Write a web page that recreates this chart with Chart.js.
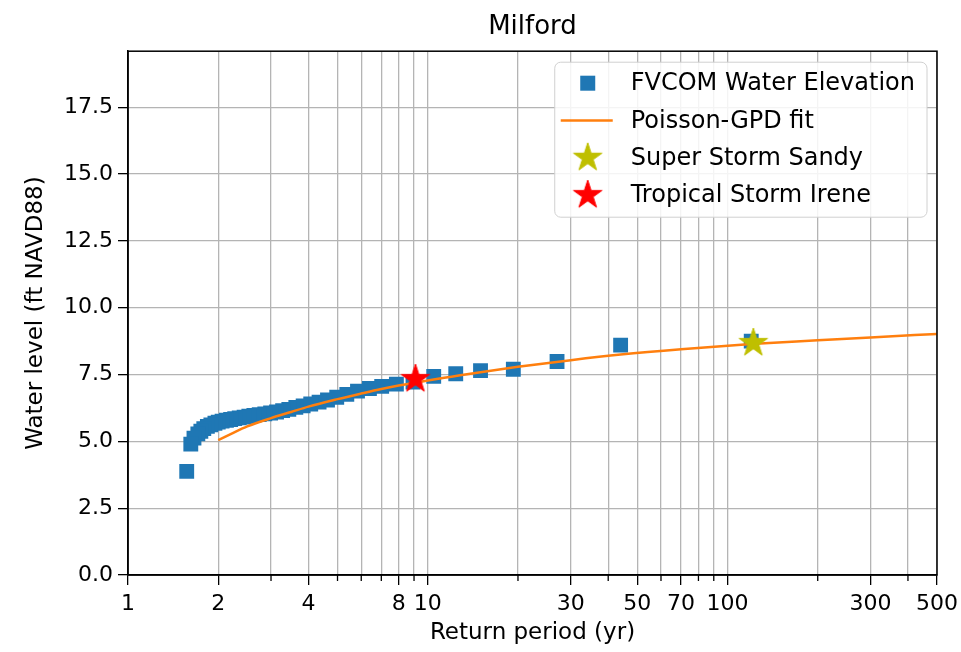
<!DOCTYPE html>
<html><head><meta charset="utf-8">
<script src="https://cdn.jsdelivr.net/npm/chart.js@4.4.1/dist/chart.umd.min.js"></script>
<style>html,body{margin:0;padding:0;background:#fff}</style>
</head><body>
<canvas id="c" width="961" height="652"></canvas>
<script>
// ---- data ----
const chartTitle = 'Milford';
const xAxisTitle = 'Return period (yr)';
const yAxisTitle = 'Water level (ft NAVD88)';

const modelPeriods = [120, 44.0, 27.0, 19.3, 15.0, 12.4, 10.47,
  8.93, 7.86, 7.02, 6.39, 5.83, 5.37, 4.97, 4.63, 4.34, 4.07, 3.84, 3.63, 3.44, 3.28, 3.13, 2.99,
  2.86, 2.74, 2.63, 2.53, 2.44, 2.35, 2.27, 2.20, 2.13, 2.06, 2.00, 1.95, 1.89, 1.84, 1.79, 1.75,
  1.71, 1.66, 1.62, 1.57];
const modelLevels = [8.75, 8.60, 7.99, 7.70, 7.65, 7.53, 7.43,
  7.22, 7.14, 7.06, 6.98, 6.88, 6.76, 6.65, 6.55, 6.47, 6.40, 6.33, 6.27, 6.20, 6.15, 6.10, 6.06,
  6.03, 6.00, 5.97, 5.94, 5.91, 5.88, 5.85, 5.82, 5.79, 5.76, 5.72, 5.68, 5.62, 5.56, 5.48, 5.38,
  5.28, 5.12, 4.90, 3.88];

const fitPeriods = [2, 2.2, 2.5, 3, 3.5, 4, 5, 6, 7, 8, 10, 12, 15, 20, 30, 44, 70, 120, 200, 300, 500];
const fitLevels  = [5.05, 5.27, 5.56, 5.87, 6.10, 6.30, 6.58, 6.79, 6.96, 7.09, 7.28, 7.42, 7.59, 7.79, 8.04, 8.25, 8.45, 8.64, 8.78, 8.89, 9.02];

const sandyPeriod = [122];
const sandyLevel  = [8.68];
const irenePeriod = [9.1];
const ireneLevel  = [7.33];

const seriesLabels = ['FVCOM Water Elevation', 'Poisson-GPD fit', 'Super Storm Sandy', 'Tropical Storm Irene'];

const xGridValues  = [1,2,3,4,5,6,7,8,9,10,20,30,40,50,60,70,80,90,100,200,300,400,500];
const xTickLabels  = [1,2,4,8,10,30,50,70,100,300,500];
const yTickValues  = [0, 2.5, 5, 7.5, 10, 12.5, 15, 17.5];
const xRange = [1, 500];
const yRange = [0, 19.6];

// ---- styling ----
const FONT = 'DejaVu Sans';
const FS = 22;      // tick labels
const FS_T = 23;    // axis titles
const FS_L = 24;    // legend
const FS_H = 26;    // chart title
const BLUE = '#1f77b4', ORANGE = '#ff7f0e', OLIVE = '#bfbf00', RED = '#ff0000';

function makeStar(color, R) {
  const s = Math.ceil(2 * R + 4);
  const c = document.createElement('canvas');
  c.width = s; c.height = s;
  const g = c.getContext('2d');
  g.translate(s / 2, s / 2);
  const r = R * 0.381966;
  g.beginPath();
  for (let i = 0; i < 10; i++) {
    const rad = i % 2 === 0 ? R : r;
    const a = -Math.PI / 2 + i * Math.PI / 5;
    const px = rad * Math.cos(a), py = rad * Math.sin(a);
    if (i === 0) g.moveTo(px, py); else g.lineTo(px, py);
  }
  g.closePath();
  g.fillStyle = color; g.fill();
  g.lineWidth = 1; g.strokeStyle = color; g.stroke();
  return c;
}
const sandyStar = makeStar(OLIVE, 15);
const ireneStar = makeStar(RED, 15);

const toPts = (xs, ys) => xs.map((x, i) => ({x, y: ys[i]}));

const extras = {
  id: 'extras',
  afterDraw(chart) {
    const {ctx, chartArea: a, scales} = chart;
    ctx.save();
    // minor x ticks
    ctx.strokeStyle = '#000'; ctx.lineWidth = 1.3;
    xGridValues.forEach(v => {
      if (xTickLabels.includes(v)) return;
      const px = scales.x.getPixelForValue(v);
      ctx.beginPath(); ctx.moveTo(px, a.bottom); ctx.lineTo(px, a.bottom + 6); ctx.stroke();
    });
    // frame
    ctx.lineWidth = 1.5; ctx.strokeStyle = '#000';
    ctx.strokeRect(a.left, a.top, a.right - a.left, a.bottom - a.top);
    // legend
    ctx.font = FS_L + 'px "' + FONT + '"';
    const ds = chart.data.datasets;
    let maxW = 0;
    ds.forEach(d => { maxW = Math.max(maxW, ctx.measureText(d.label).width); });
    const bw = 76 + maxW + 12, bh = 155;
    const bx = a.right - 10 - bw, by = a.top + 11;
    ctx.beginPath();
    if (ctx.roundRect) ctx.roundRect(bx, by, bw, bh, 6); else ctx.rect(bx, by, bw, bh);
    ctx.fillStyle = 'rgba(255,255,255,0.85)'; ctx.fill();
    ctx.lineWidth = 1; ctx.strokeStyle = '#d0d0d0'; ctx.stroke();
    ds.forEach((d, i) => {
      const cy = by + 21 + i * 37.3;
      const mx = bx + 33;
      if (i === 0) {
        ctx.fillStyle = BLUE; ctx.fillRect(mx - 7.5, cy - 7.5, 15, 15);
      } else if (i === 1) {
        ctx.strokeStyle = ORANGE; ctx.lineWidth = 2.5;
        ctx.beginPath(); ctx.moveTo(bx + 6, cy); ctx.lineTo(bx + 58, cy); ctx.stroke();
      } else {
        const img = i === 2 ? sandyStar : ireneStar;
        ctx.drawImage(img, mx - img.width / 2, cy - img.height / 2);
      }
      ctx.fillStyle = '#000'; ctx.textBaseline = 'middle'; ctx.textAlign = 'left';
      ctx.fillText(d.label, bx + 76, cy + 1);
    });
    ctx.restore();
  }
};

new Chart(document.getElementById('c'), {
  type: 'scatter',
  data: {
    datasets: [
      { label: seriesLabels[0], data: toPts(modelPeriods, modelLevels), order: 3,
        pointStyle: 'rect', pointRadius: 10.5, pointHoverRadius: 10.5,
        backgroundColor: BLUE, borderColor: BLUE, borderWidth: 0, showLine: false },
      { label: seriesLabels[1], type: 'line', data: toPts(fitPeriods, fitLevels), order: 2,
        borderColor: ORANGE, backgroundColor: ORANGE, borderWidth: 2.5, pointRadius: 0,
        cubicInterpolationMode: 'monotone', fill: false },
      { label: seriesLabels[2], data: toPts(sandyPeriod, sandyLevel), order: 1,
        pointStyle: sandyStar, pointRadius: 15, backgroundColor: OLIVE, borderColor: OLIVE },
      { label: seriesLabels[3], data: toPts(irenePeriod, ireneLevel), order: 0,
        pointStyle: ireneStar, pointRadius: 15, backgroundColor: RED, borderColor: RED }
    ]
  },
  options: {
    responsive: false, animation: false, devicePixelRatio: 1,
    layout: { padding: { left: 0, right: 24, top: 0, bottom: 0 } },
    plugins: {
      legend: { display: false },
      tooltip: { enabled: false },
      title: { display: true, fullSize: false, text: chartTitle, color: '#000',
        font: { family: FONT, size: FS_H, weight: 'normal' }, padding: { top: 12, bottom: 8 } }
    },
    scales: {
      x: {
        type: 'logarithmic', position: 'bottom', min: xRange[0], max: xRange[1],
        afterBuildTicks: s => { s.ticks = xGridValues.map(v => ({ value: v })); },
        afterFit: s => { s.height = 77; s.paddingRight = 0; s.paddingLeft = 0; },
        ticks: { autoSkip: false, maxRotation: 0, minRotation: 0, padding: 6, color: '#000',
          font: { family: FONT, size: FS },
          callback: v => xTickLabels.includes(v) ? String(v) : '' },
        grid: { color: '#b4b4b4', lineWidth: 1.3, tickLength: 10, tickWidth: 1.3,
          tickColor: c => (c.tick && xTickLabels.includes(c.tick.value)) ? '#000' : 'rgba(0,0,0,0)' },
        border: { display: true, color: '#000', width: 1.5 },
        title: { display: true, text: xAxisTitle, color: '#000',
          font: { family: FONT, size: FS_T }, padding: { top: 0, bottom: 5 } }
      },
      y: {
        type: 'linear', min: yRange[0], max: yRange[1],
        afterBuildTicks: s => { s.ticks = yTickValues.map(v => ({ value: v })); },
        afterFit: s => { s.width = 128; s.paddingTop = 0; s.paddingBottom = 0; },
        ticks: { padding: 5, color: '#000', font: { family: FONT, size: FS },
          callback: v => Number(v).toFixed(1) },
        grid: { color: '#b4b4b4', lineWidth: 1.3, tickLength: 10, tickWidth: 1.3, tickColor: '#000' },
        border: { display: true, color: '#000', width: 1.5 },
        title: { display: true, text: yAxisTitle, color: '#000',
          font: { family: FONT, size: FS_T }, padding: { top: 22, bottom: 0 } }
      }
    }
  },
  plugins: [extras]
});
</script>
</body></html>
